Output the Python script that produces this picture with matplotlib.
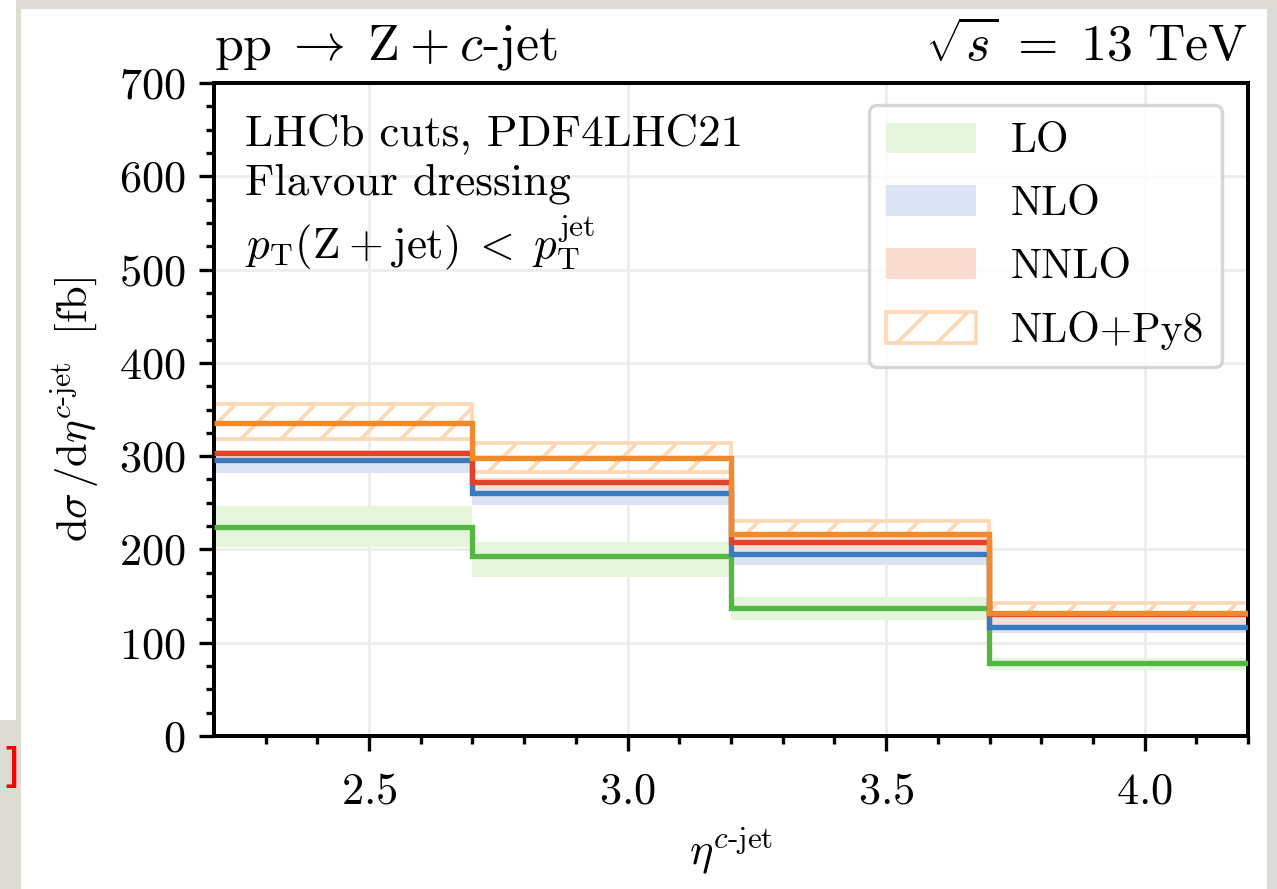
import matplotlib
matplotlib.use("Agg")
import matplotlib.pyplot as plt
from matplotlib.patches import Patch, Rectangle
import numpy as np

# bins in eta^{c-jet}
edges = [2.2, 2.7, 3.2, 3.7, 4.2]

# dsigma/deta [fb], central value and scale band
lo = [224, 193, 137, 78]
lo_lo = [203, 170, 124, 71]
lo_hi = [247, 208, 149, 84]

nlo = [296, 260, 195, 117]
nlo_lo = [282, 248, 183, 110]
nlo_hi = [302, 267, 200, 121]

nnlo = [303, 272, 208, 131]
nnlo_lo = [297, 265, 199, 121]
nnlo_hi = [307, 277, 212, 133]

py8 = [336, 298, 217, 132]
py8_lo = [318, 283, 214, 130]
py8_hi = [356, 314, 231, 143]

labels = ["LO", "NLO", "NNLO", "NLO+Py8"]

plt.rcParams["font.family"] = "serif"
plt.rcParams["font.serif"] = ["cmr10"]
plt.rcParams["mathtext.fontset"] = "cm"
plt.rcParams["axes.formatter.use_mathtext"] = True
plt.rcParams["axes.unicode_minus"] = False
plt.rcParams["hatch.linewidth"] = 1.1

dpi = 240
fig = plt.figure(figsize=(1277 / dpi, 889 / dpi), dpi=dpi)
fig.patch.set_facecolor("#dddbd6")

# white sheet of the screenshot
fig.add_artist(Rectangle((21 / 1277, 0), 1246 / 1277, 1 - 9 / 889,
                         transform=fig.transFigure, facecolor="white",
                         edgecolor="none", zorder=-10))
fig.add_artist(Rectangle((0, 1 - 720 / 889), 16 / 1277, 720 / 889,
                         transform=fig.transFigure, facecolor="white",
                         edgecolor="none", zorder=-10))
fig.text(0.001, 1 - 768 / 889, "]", color="red", fontsize=14, va="center",
         ha="left", family="DejaVu Sans")

ax = fig.add_axes([214 / 1277, 1 - 736 / 889, 1034 / 1277, 653 / 889])
ax.set_facecolor("white")

c_lo, c_nlo, c_nnlo, c_py8 = "#55b743", "#3b7bbd", "#e0432a", "#f08a2c"
b_lo, b_nlo, b_nnlo, b_py8 = "#e6f6dd", "#dce4f3", "#fbddcf", "#fed7b3"

centers = [(a + b) / 2 for a, b in zip(edges[:-1], edges[1:])]
widths = [b - a for a, b in zip(edges[:-1], edges[1:])]

ax.stairs(lo_hi, edges, baseline=lo_lo, fill=True, color=b_lo, zorder=1)
ax.stairs(nlo_hi, edges, baseline=nlo_lo, fill=True, color=b_nlo, zorder=1)
ax.stairs(nnlo_hi, edges, baseline=nnlo_lo, fill=True, color=b_nnlo, zorder=1)
ax.bar(centers, np.subtract(py8_hi, py8_lo), bottom=py8_lo, width=widths,
       facecolor="none", edgecolor=b_py8, hatch="//", linewidth=1.1, zorder=1.5)

lw = 1.6
ax.stairs(lo, edges, baseline=None, color=c_lo, lw=lw, zorder=3)
ax.stairs(nlo, edges, baseline=None, color=c_nlo, lw=lw, zorder=3)
ax.stairs(nnlo, edges, baseline=None, color=c_nnlo, lw=lw, zorder=3)
ax.stairs(py8, edges, baseline=None, color=c_py8, lw=lw, zorder=3)

ax.set_xlim(2.2, 4.2)
ax.set_ylim(0, 700)
ax.set_xticks([2.5, 3.0, 3.5, 4.0])
ax.set_xticks(np.arange(2.3, 4.2, 0.1), minor=True)
ax.set_yticks(range(0, 701, 100))
ax.set_yticks(range(0, 701, 25), minor=True)
ax.grid(True, which="major", color="#ececec", lw=0.8, zorder=0)
ax.set_axisbelow(True)
for s in ax.spines.values():
    s.set_linewidth(1.2)
ax.tick_params(which="both", direction="out", top=False, right=False,
               labelsize=13.3, width=1.0)
ax.tick_params(which="major", length=4.5)
ax.tick_params(which="minor", length=2.5)
ax.tick_params(axis="x", which="major", pad=6.5)
ax.tick_params(axis="y", which="major", pad=4)

ax.set_xlabel(r"$\eta^{c\text{-jet}}$", fontsize=13.3, labelpad=4)
ax.set_ylabel(r"$\mathrm{d}\sigma\,/\mathrm{d}\eta^{c\text{-jet}}\ \ [\mathrm{fb}]$",
              fontsize=12.8, labelpad=5)

ax.set_title(r"$\mathrm{pp}\;{\to}\;\mathrm{Z}\:{+}\:c$-jet", loc="left",
             fontsize=15.6, pad=7)
ax.set_title(r"$\sqrt{s}\;{=}\;13\ \mathrm{TeV}$", loc="right", fontsize=15.6, pad=7)

ax.text(0.030, 0.905, "LHCb cuts, PDF4LHC21", transform=ax.transAxes,
        fontsize=13.5, va="baseline")
ax.text(0.030, 0.830, "Flavour dressing", transform=ax.transAxes,
        fontsize=13.5, va="baseline")
ax.text(0.030, 0.732,
        r"$p_\mathrm{T}(\mathrm{Z}\:{+}\:\mathrm{jet})\;{<}\;p_\mathrm{T}^\mathrm{jet}$",
        transform=ax.transAxes, fontsize=13.5, va="baseline")

handles = [Patch(facecolor=b_lo, edgecolor="none"),
           Patch(facecolor=b_nlo, edgecolor="none"),
           Patch(facecolor=b_nnlo, edgecolor="none"),
           Patch(facecolor="none", edgecolor=b_py8, hatch="//", linewidth=1.1)]
leg = ax.legend(handles, labels, loc="upper right",
                bbox_to_anchor=(1 - 26 / 1034, 1 - 22 / 653), borderaxespad=0,
                fontsize=12.5, handlelength=2.15, handleheight=0.75,
                handletextpad=0.85, labelspacing=0.6, borderpad=0.42,
                fancybox=True, framealpha=0.8, edgecolor="#cccccc")
leg.get_frame().set_linewidth(1.0)

fig.savefig("out.png", dpi=dpi, facecolor=fig.get_facecolor())
